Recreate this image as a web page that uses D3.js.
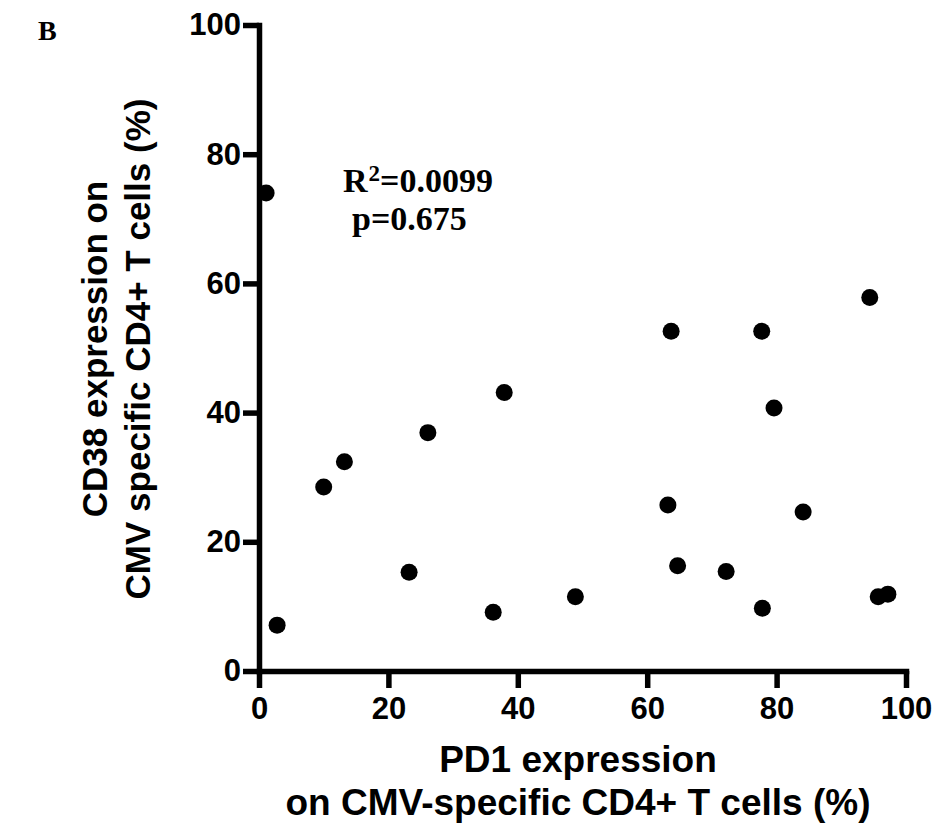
<!DOCTYPE html>
<html>
<head>
<meta charset="utf-8">
<script src="https://cdn.jsdelivr.net/npm/d3@7"></script>
<style>
  html, body { margin: 0; padding: 0; background: #fff; }
  svg { display: block; }
</style>
</head>
<body>
<svg id="chart" width="937" height="826"></svg>
<script>
// PD1 expression (%) on CMV-specific CD4+ T cells
const pd1Values = [1.1, 2.8, 10.0, 13.2, 23.2, 26.1, 37.9, 36.2, 48.9, 94.4, 63.7, 77.7, 79.6, 63.2, 84.1, 64.7, 72.2, 77.8, 95.7, 97.2];
// CD38 expression (%) on CMV-specific CD4+ T cells
const cd38Values = [74.0, 7.1, 28.5, 32.4, 15.3, 36.9, 43.1, 9.1, 11.5, 57.8, 52.6, 52.6, 40.7, 25.7, 24.6, 16.3, 15.4, 9.7, 11.5, 11.9];
const xTicks = [0, 20, 40, 60, 80, 100];
const yTicks = [0, 20, 40, 60, 80, 100];
const xTitleLines = ["PD1 expression", "on CMV-specific CD4+ T cells (%)"];
const yTitleLines = ["CD38 expression on", "CMV specific CD4+ T cells (%)"];
const statLines = { r2: "0.0099", p: "0.675" };
const panelLabel = "B";

const svg = d3.select("#chart");
const sans = "'Liberation Sans', Arial, sans-serif";
const serif = "'Liberation Serif', 'Times New Roman', serif";

const x = d3.scaleLinear().domain([0, 100]).range([259, 906]);
const y = d3.scaleLinear().domain([0, 100]).range([671, 25]);

const axisW = 5.5;

// X axis
const gx = svg.append("g").attr("transform", `translate(0,${y(0)})`)
  .call(d3.axisBottom(x).tickValues(xTicks).tickSize(17).tickSizeOuter(0).tickPadding(9).tickFormat(d3.format("d")));
// Y axis
const gy = svg.append("g").attr("transform", `translate(${x(0)},0)`)
  .call(d3.axisLeft(y).tickValues(yTicks).tickSize(16).tickSizeOuter(0).tickPadding(2).tickFormat(d3.format("d")));

[gx, gy].forEach(g => {
  g.select(".domain").attr("stroke", "#000").attr("stroke-width", axisW).attr("stroke-linecap", "square");
  g.selectAll(".tick line").attr("stroke", "#000").attr("stroke-width", axisW);
  g.selectAll(".tick text").attr("fill", "#000")
    .style("font-family", sans).style("font-weight", "bold").style("font-size", "31px");
});

// Points
svg.append("g").selectAll("circle")
  .data(pd1Values.map((v, i) => [v, cd38Values[i]]))
  .join("circle")
  .attr("cx", d => x(d[0]))
  .attr("cy", d => y(d[1]))
  .attr("r", 8.5)
  .attr("fill", "#000");

// X title
const xt = svg.append("text")
  .attr("text-anchor", "middle")
  .style("font-family", sans).style("font-weight", "bold").style("font-size", "37px")
  .attr("fill", "#000");
xt.selectAll("tspan").data(xTitleLines).join("tspan")
  .attr("x", 578)
  .attr("y", (d, i) => 772 + i * 43)
  .text(d => d);

// Y title
const yt = svg.append("text")
  .attr("text-anchor", "middle")
  .attr("transform", "translate(0,349) rotate(-90)")
  .style("font-family", sans).style("font-weight", "bold").style("font-size", "35px")
  .attr("fill", "#000");
yt.selectAll("tspan").data(yTitleLines).join("tspan")
  .attr("x", 0)
  .attr("y", (d, i) => 107 + i * 43)
  .text(d => d);

// Stats annotation
const st = svg.append("text")
  .style("font-family", serif).style("font-weight", "bold").style("font-size", "34px")
  .attr("fill", "#000")
  .attr("x", 343).attr("y", 192);
st.append("tspan").text("R");
st.append("tspan").attr("dx", 1).attr("dy", -11).style("font-size", "23px").text("2");
st.append("tspan").attr("dy", 11).text("=" + statLines.r2);

svg.append("text")
  .style("font-family", serif).style("font-weight", "bold").style("font-size", "34px")
  .attr("fill", "#000")
  .attr("x", 352).attr("y", 230)
  .text("p=" + statLines.p);

// Panel label
svg.append("text")
  .style("font-family", serif).style("font-weight", "bold").style("font-size", "28px")
  .attr("fill", "#000")
  .attr("x", 38).attr("y", 40)
  .text(panelLabel);
</script>
</body>
</html>
